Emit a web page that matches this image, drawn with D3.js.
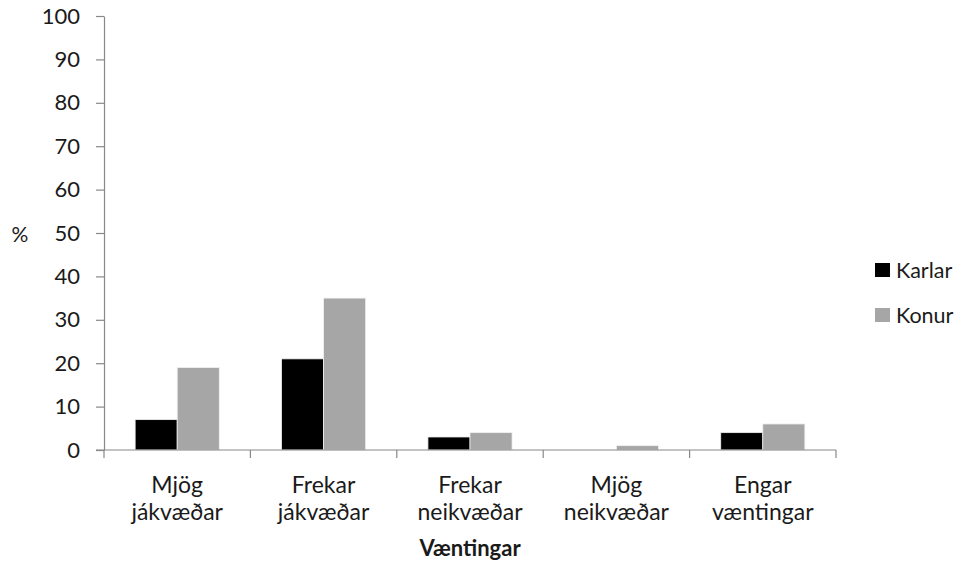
<!DOCTYPE html>
<html>
<head>
<meta charset="utf-8">
<script src="https://cdn.jsdelivr.net/npm/d3@7"></script>
<style>
  html, body { margin: 0; padding: 0; background: #fff; }
  svg { display: block; font-family: Lato, "Open Sans", sans-serif; }
</style>
</head>
<body>
<svg id="chart" width="958" height="563"></svg>
<script>
// Categories (two-line labels) and series
const categories = [
  ["Mjög", "jákvæðar"],
  ["Frekar", "jákvæðar"],
  ["Frekar", "neikvæðar"],
  ["Mjög", "neikvæðar"],
  ["Engar", "væntingar"]
];
const seriesNames = ["Karlar", "Konur"];
const karlar = [7, 21, 3, 0, 4];
const konur = [19, 35, 4, 1, 6];
const yTicks = [0, 10, 20, 30, 40, 50, 60, 70, 80, 90, 100];
const colors = ["#000000", "#a6a6a6"];

const svg = d3.select("#chart");
const margin = { left: 104, right: 122, top: 16, bottom: 113 };
const W = 958, H = 563;
const x0 = margin.left, x1 = W - margin.right;
const yTop = margin.top, yBot = H - margin.bottom;
const textColor = "#1a1a1a";

const catKeys = categories.map((c, i) => i);
const x = d3.scaleBand().domain(catKeys).range([x0, x1]).paddingInner(0).paddingOuter(0);
const xs = d3.scaleBand().domain(seriesNames).range([0, x.bandwidth()]).paddingInner(0).paddingOuter(0.74);
const y = d3.scaleLinear().domain([0, 100]).range([yBot, yTop]);

const seriesData = [karlar, konur];

// Bars
seriesNames.forEach((name, si) => {
  svg.append("g").selectAll("rect")
    .data(seriesData[si])
    .join("rect")
    .attr("x", (d, i) => x(i) + xs(name))
    .attr("y", d => y(d))
    .attr("width", xs.bandwidth())
    .attr("height", d => yBot - y(d))
    .attr("fill", colors[si])
    .attr("stroke", d => d > 0 ? "#f0f0f0" : "none")
    .attr("stroke-width", 0.8);
});

// Y axis
const yAxis = d3.axisLeft(y).tickValues(yTicks).tickSize(8).tickPadding(16).tickSizeOuter(0);
const gy = svg.append("g").attr("transform", `translate(${x0},0)`).call(yAxis);
gy.select(".domain").attr("stroke", "#888").attr("stroke-width", 1.2);
gy.selectAll(".tick line").attr("stroke", "#888").attr("stroke-width", 1.2);
gy.selectAll(".tick text").attr("font-size", 22).attr("fill", textColor)
  .attr("font-family", "Lato, 'Open Sans', sans-serif");

// X axis baseline and category separators
const gx = svg.append("g");
gx.append("line").attr("x1", x0 - 8).attr("x2", x1).attr("y1", yBot).attr("y2", yBot)
  .attr("stroke", "#888").attr("stroke-width", 1.2);
const sepPositions = catKeys.map(i => x(i)).concat([x1]);
gx.selectAll("line.sep").data(sepPositions).join("line").attr("class", "sep")
  .attr("x1", d => d).attr("x2", d => d).attr("y1", yBot).attr("y2", yBot + 8)
  .attr("stroke", "#888").attr("stroke-width", 1.2);

// Category labels
const lab = svg.append("g").selectAll("text").data(categories).join("text")
  .attr("text-anchor", "middle")
  .attr("font-size", 23)
  .attr("fill", textColor);
lab.each(function (d, i) {
  const t = d3.select(this);
  const cx = x(i) + x.bandwidth() / 2;
  d.forEach((line, li) => {
    t.append("tspan").attr("x", cx).attr("y", 493 + li * 27).text(line);
  });
});

// Axis titles
svg.append("text").attr("x", (x0 + x1) / 2).attr("y", 556).attr("text-anchor", "middle")
  .attr("font-size", 22).attr("font-weight", "bold").attr("fill", textColor).text("Væntingar");
svg.append("text").attr("x", 20).attr("y", 242).attr("text-anchor", "middle")
  .attr("font-size", 21).attr("fill", textColor).text("%");

// Legend
const legend = svg.append("g").selectAll("g").data(seriesNames).join("g")
  .attr("transform", (d, i) => `translate(875,${263 + i * 45})`);
legend.append("rect").attr("width", 15).attr("height", 14).attr("fill", (d, i) => colors[i]);
legend.append("text").attr("x", 21).attr("y", 15).attr("font-size", 21.5).attr("fill", textColor).text(d => d);
</script>
</body>
</html>
